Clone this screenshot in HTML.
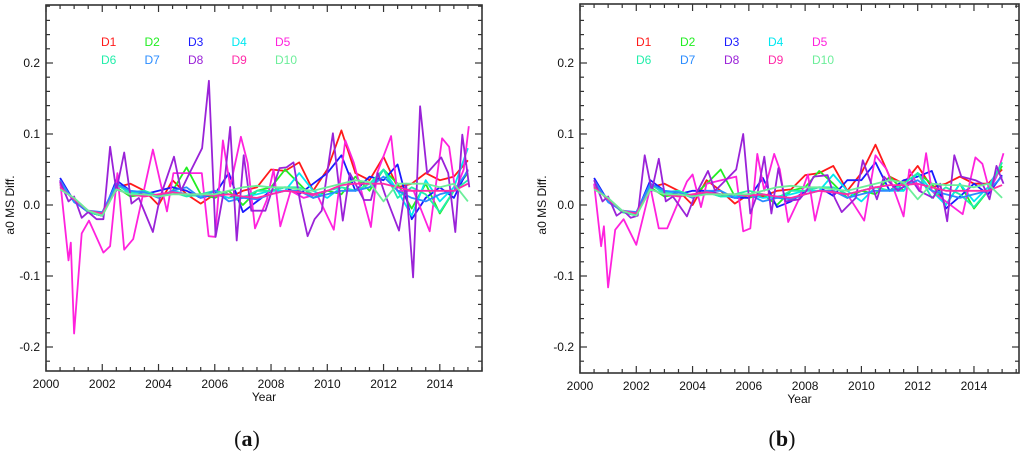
<!DOCTYPE html>
<html><head><meta charset="utf-8"><style>
html,body{margin:0;padding:0;background:#fff}
svg{display:block;font-family:"Liberation Sans",Arial,sans-serif}
</style></head><body>
<svg id="fig" width="1024" height="456" viewBox="0 0 1024 456"></svg>
<script>
// ---------- data ----------
const seriesNames = ["D1","D2","D3","D4","D5","D6","D7","D8","D9","D10"];
const seriesColors = ["#ff1a1a","#22ee22","#1a1aff","#00e8f0","#ff22dd","#22eeaa","#2a8cff","#9a22d8","#ff2aa8","#6cee9a"];
const yTicks = [-0.2,-0.1,0.0,0.1,0.2];
const yTickLabels = ["-0.2","-0.1","0.0","0.1","0.2"];
const xTicks = [2000,2002,2004,2006,2008,2010,2012,2014];
const xTickLabels = ["2000","2002","2004","2006","2008","2010","2012","2014"];
// semiannual grid years 2000.5 .. 2015.0
const gridYears = [2000.5,2001,2001.5,2002,2002.5,2003,2003.5,2004,2004.5,2005,2005.5,2006,2006.5,2007,2007.5,2008,2008.5,2009,2009.5,2010,2010.5,2011,2011.5,2012,2012.5,2013,2013.5,2014,2014.5,2015];

// ---- panel (a) ----
const a_D1 = [0.03,0.008,-0.01,-0.015,0.025,0.03,0.02,0.0,0.035,0.015,0.002,0.015,0.01,0.02,0.025,0.05,0.048,0.06,0.02,0.05,0.105,0.045,0.035,0.068,0.025,0.03,0.045,0.035,0.04,0.063];
const a_D2 = [0.028,0.007,-0.01,-0.015,0.025,0.012,0.015,0.012,0.02,0.053,0.015,0.01,0.02,0.0,0.02,0.025,0.05,0.03,0.01,0.02,0.015,0.04,0.02,0.05,0.03,-0.005,0.03,-0.012,0.02,0.045];
const a_D3 = [0.038,0.005,-0.01,-0.015,0.035,0.02,0.015,0.02,0.025,0.02,0.01,0.015,0.045,-0.01,0.005,0.02,0.025,0.015,0.03,0.045,0.07,0.02,0.04,0.035,0.057,-0.02,0.01,0.025,0.01,0.05];
const a_D4 = [0.03,0.007,-0.008,-0.012,0.03,0.015,0.02,0.012,0.02,0.015,0.012,0.015,0.01,0.012,0.015,0.02,0.02,0.045,0.02,0.01,0.025,0.02,0.025,0.05,0.02,-0.015,0.035,0.005,0.025,0.08];
const a_D5_years = [2000.5,2000.8,2000.88,2001.0,2001.27,2001.53,2002.04,2002.28,2002.54,2002.78,2003.1,2003.8,2004.3,2004.53,2005.54,2005.78,2006.01,2006.29,2006.55,2006.93,2007.17,2007.43,2007.85,2008.09,2008.33,2008.7,2009.16,2009.63,2010.23,2010.64,2010.94,2011.55,2011.77,2012.27,2012.48,2013.07,2013.64,2014.08,2014.33,2014.55,2014.85,2015.03];
const a_D5 = [0.035,-0.078,-0.053,-0.181,-0.04,-0.022,-0.067,-0.058,0.045,-0.063,-0.048,0.078,-0.009,0.045,0.045,-0.044,-0.045,0.091,0.026,0.096,0.059,-0.033,0.007,0.05,-0.03,0.02,0.01,0.015,-0.035,0.091,0.06,-0.031,0.045,0.097,0.02,0.02,-0.037,0.094,0.082,0.02,0.05,0.111];
const a_D6 = [0.025,0.008,-0.01,-0.015,0.028,0.018,0.02,0.013,0.018,0.012,0.015,0.02,0.015,0.01,0.02,0.02,0.025,0.025,0.015,0.02,0.025,0.02,0.03,0.05,0.01,0.025,0.015,-0.01,0.02,0.035];
const a_D7 = [0.035,0.004,-0.008,-0.01,0.03,0.02,0.018,0.01,0.02,0.025,0.01,0.02,0.005,0.01,0.008,0.015,0.02,0.02,0.01,0.015,0.02,0.02,0.025,0.04,0.02,0.01,0.005,0.015,0.02,0.048];
const a_D8_years = [2000.5,2000.8,2001.0,2001.27,2001.5,2001.8,2002.04,2002.28,2002.5,2002.78,2003.04,2003.3,2003.8,2004.05,2004.55,2004.8,2005.04,2005.55,2005.79,2006.03,2006.3,2006.55,2006.78,2007.03,2007.3,2007.8,2008.05,2008.3,2008.55,2008.8,2009.04,2009.3,2009.55,2009.8,2010.2,2010.55,2010.8,2011.3,2011.55,2011.8,2012.05,2012.55,2012.8,2013.05,2013.3,2013.55,2014.05,2014.3,2014.55,2014.8,2015.05];
const a_D8 = [0.033,0.005,0.012,-0.018,-0.01,-0.02,-0.02,0.082,0.02,0.074,0.002,0.01,-0.038,0.01,0.068,0.02,0.04,0.08,0.175,-0.045,0.015,0.11,-0.05,0.07,-0.008,-0.008,0.022,0.052,0.053,0.06,0.003,-0.044,-0.02,-0.008,0.101,-0.022,0.045,0.007,0.007,0.045,0.015,-0.036,0.03,-0.102,0.139,0.045,0.067,0.045,-0.038,0.099,0.025];
const a_D9 = [0.025,0.008,-0.008,-0.012,0.022,0.015,0.012,0.015,0.018,0.015,0.015,0.013,0.015,0.012,0.01,0.015,0.02,0.018,0.015,0.02,0.028,0.03,0.03,0.03,0.025,0.02,0.02,0.02,0.02,0.03];
const a_D10 = [0.022,0.01,-0.008,-0.015,0.022,0.015,0.015,0.012,0.015,0.015,0.015,0.015,0.02,0.025,0.027,0.025,0.025,0.022,0.02,0.025,0.03,0.035,0.032,0.005,0.03,0.03,0.03,0.025,0.03,0.005];

// ---- panel (b) ----
const b_D1 = [0.03,0.008,-0.01,-0.013,0.025,0.03,0.02,0.0,0.035,0.02,0.002,0.015,0.012,0.02,0.022,0.042,0.045,0.055,0.02,0.045,0.085,0.04,0.03,0.055,0.025,0.03,0.04,0.03,0.03,0.05];
const b_D2 = [0.028,0.007,-0.01,-0.014,0.025,0.012,0.015,0.012,0.03,0.05,0.012,0.01,0.015,0.0,0.02,0.025,0.048,0.03,0.01,0.02,0.015,0.04,0.02,0.045,0.03,0.0,0.03,-0.005,0.02,0.055];
const b_D3 = [0.038,0.005,-0.008,-0.012,0.035,0.02,0.015,0.02,0.02,0.015,0.01,0.01,0.038,-0.003,0.005,0.02,0.025,0.013,0.035,0.035,0.06,0.02,0.035,0.04,0.048,-0.005,0.012,0.03,0.015,0.042];
const b_D4 = [0.03,0.007,-0.008,-0.012,0.03,0.015,0.02,0.012,0.018,0.012,0.012,0.015,0.01,0.012,0.015,0.02,0.02,0.043,0.02,0.005,0.025,0.02,0.02,0.045,0.02,0.0,0.03,0.005,0.025,0.06];
const b_D5_years = [2000.5,2000.75,2000.85,2001.0,2001.25,2001.55,2002.0,2002.5,2002.8,2003.1,2003.8,2004.0,2004.3,2004.5,2005.55,2005.8,2006.05,2006.3,2006.55,2006.9,2007.1,2007.4,2007.8,2008.1,2008.35,2008.6,2009.5,2010.1,2010.5,2010.9,2011.5,2011.7,2012.1,2012.3,2012.5,2013.6,2014.05,2014.3,2014.55,2014.8,2015.05];
const b_D5 = [0.03,-0.058,-0.03,-0.116,-0.035,-0.02,-0.056,0.025,-0.033,-0.033,0.033,0.043,-0.003,0.03,0.04,-0.037,-0.033,0.072,0.02,0.072,0.05,-0.024,0.01,0.043,-0.022,0.02,0.015,-0.022,0.07,0.05,-0.016,0.05,0.02,0.073,0.02,-0.013,0.067,0.058,0.02,0.04,0.073];
const b_D6 = [0.025,0.008,-0.01,-0.015,0.028,0.018,0.02,0.013,0.018,0.012,0.015,0.02,0.015,0.01,0.02,0.02,0.025,0.025,0.015,0.02,0.025,0.02,0.03,0.045,0.01,0.025,0.015,-0.003,0.02,0.06];
const b_D7 = [0.035,0.004,-0.008,-0.01,0.03,0.02,0.018,0.01,0.02,0.02,0.01,0.015,0.005,0.01,0.008,0.015,0.02,0.02,0.01,0.015,0.02,0.02,0.025,0.035,0.02,0.015,0.01,0.015,0.02,0.04];
const b_D8_years = [2000.5,2000.8,2001.0,2001.3,2001.55,2001.8,2002.05,2002.3,2002.55,2002.8,2003.05,2003.3,2003.8,2004.05,2004.55,2004.8,2005.05,2005.55,2005.8,2006.05,2006.3,2006.55,2006.8,2007.05,2007.3,2007.8,2008.05,2008.3,2008.8,2009.05,2009.3,2009.8,2010.05,2010.55,2010.8,2011.3,2011.8,2012.05,2012.55,2012.8,2013.05,2013.3,2013.55,2014.05,2014.3,2014.55,2014.8,2015.05];
const b_D8 = [0.035,0.005,0.012,-0.015,-0.008,-0.018,-0.015,0.07,0.02,0.065,0.005,0.012,-0.016,0.01,0.048,0.02,0.03,0.05,0.1,-0.012,0.015,0.068,-0.012,0.052,0.005,0.008,0.02,0.04,0.042,0.01,-0.01,0.01,0.063,0.008,0.04,0.02,0.035,0.02,0.01,0.03,-0.023,0.07,0.04,0.035,0.03,0.008,0.055,0.03];
const b_D9 = [0.025,0.008,-0.008,-0.012,0.022,0.015,0.012,0.015,0.018,0.015,0.015,0.013,0.015,0.012,0.01,0.015,0.02,0.018,0.015,0.02,0.025,0.028,0.028,0.03,0.025,0.02,0.02,0.02,0.02,0.028];
const b_D10 = [0.022,0.01,-0.008,-0.015,0.022,0.015,0.015,0.012,0.015,0.015,0.015,0.015,0.02,0.025,0.027,0.025,0.025,0.022,0.02,0.025,0.03,0.035,0.032,0.008,0.03,0.028,0.028,0.025,0.03,0.01];

// ---------- drawing ----------
const NS = "http://www.w3.org/2000/svg";
const svg = document.getElementById("fig");
function mk(tag, attrs, parent){
  const e = document.createElementNS(NS, tag);
  for (const k in attrs) e.setAttribute(k, attrs[k]);
  (parent||svg).appendChild(e);
  return e;
}

function drawPanel(p){
  const g = mk("g", {});
  
  
  const xS = v => p.x0 + (v - 2000) * (p.x1 - p.x0) / (p.xMax - 2000);
  const yS = v => p.y0 + (v - 0) * (p.yTop - p.y0) / 0.2;
  const fr = mk("rect", {x:p.x0, y:p.top, width:p.x1-p.x0, height:p.bottom-p.top, fill:"none", stroke:"#333", "stroke-width":1.6}, g);
  
  
  for (let yr = 2000; yr <= p.xMax; yr += 0.5){
    const major = Math.abs(yr - Math.round(yr/2)*2) < 1e-6;
    const len = major ? 7 : 4;
    const x = xS(yr);
    mk("line", {x1:x, x2:x, y1:p.bottom, y2:p.bottom-len, stroke:"#333", "stroke-width":1.2}, g);
    mk("line", {x1:x, x2:x, y1:p.top, y2:p.top+len, stroke:"#333", "stroke-width":1.2}, g);
  }
  xTicks.forEach((t,i)=>{
    const tx = mk("text", {x:xS(t), y:p.bottom+17, "text-anchor":"middle", "font-size":12, fill:"#111"}, g);
    tx.textContent = xTickLabels[i];
    
    
  });
  for (let k = -12; k <= 14; k++){
    const v = k * 0.02;
    const y = yS(v);
    if (y < p.top || y > p.bottom) continue;
    const major = (k % 5 === 0);
    const len = major ? 7 : 4;
    mk("line", {x1:p.x0, x2:p.x0+len, y1:y, y2:y, stroke:"#333", "stroke-width":1.2}, g);
    mk("line", {x1:p.x1, x2:p.x1-len, y1:y, y2:y, stroke:"#333", "stroke-width":1.2}, g);
  }
  yTicks.forEach((t,i)=>{
    const tx = mk("text", {x:p.x0-6, y:yS(t)+4, "text-anchor":"end", "font-size":12, fill:"#111"}, g);
    tx.textContent = yTickLabels[i];
    
    
  });
  const xt = mk("text", {x:(p.x0+p.x1)/2, y:p.bottom+30, "text-anchor":"middle", "font-size":12, fill:"#111"}, g);
  xt.textContent = "Year";
  
  
  const yt = mk("text", {x:0, y:0, "text-anchor":"middle", "font-size":12, fill:"#111", transform:`translate(${p.yTitleX},${yS(0)}) rotate(-90)`}, g);
  yt.textContent = "a0 MS Diff.";
  
  
  p.series.forEach((s,i)=>{
    const yrs = s.years || gridYears;
    const d = s.values.map((v,j)=>(j?"L":"M")+xS(yrs[j]).toFixed(1)+","+yS(v).toFixed(1)).join(" ");
    const pl = mk("path", {d:d, fill:"none", stroke:seriesColors[i], "stroke-width":1.8, "stroke-linejoin":"round"}, g);
    
    
  });
  seriesNames.forEach((n,i)=>{
    const col = i % 5, row = Math.floor(i/5);
    const tx = mk("text", {x:p.legX + col*p.legDx, y:46 + row*18, "font-size":12, fill:seriesColors[i]}, g);
    tx.textContent = n;
    
    
  });
  const cap = mk("text", {x:p.capX, y:446, "text-anchor":"middle", "font-size":22, "font-family":"Liberation Serif, serif", fill:"#111"}, g);
  cap.innerHTML = '(<tspan font-weight="bold">' + p.tag + '</tspan>)';
  
  
}

drawPanel({tag:"a", x0:46, x1:482, xMax:2015.5, top:5, bottom:371, y0:205, yTop:63, yTitleX:14, legX:101, legDx:43.5, capX:247,
  series:[{values:a_D1},{values:a_D2},{values:a_D3},{values:a_D4},{values:a_D5,years:a_D5_years},{values:a_D6},{values:a_D7},{values:a_D8,years:a_D8_years},{values:a_D9},{values:a_D10}]});
drawPanel({tag:"b", x0:580, x1:1019, xMax:2015.6, top:4, bottom:373, y0:205, yTop:63, yTitleX:546, legX:636, legDx:44, capX:782,
  series:[{values:b_D1},{values:b_D2},{values:b_D3},{values:b_D4},{values:b_D5,years:b_D5_years},{values:b_D6},{values:b_D7},{values:b_D8,years:b_D8_years},{values:b_D9},{values:b_D10}]});
</script>
</body></html>
